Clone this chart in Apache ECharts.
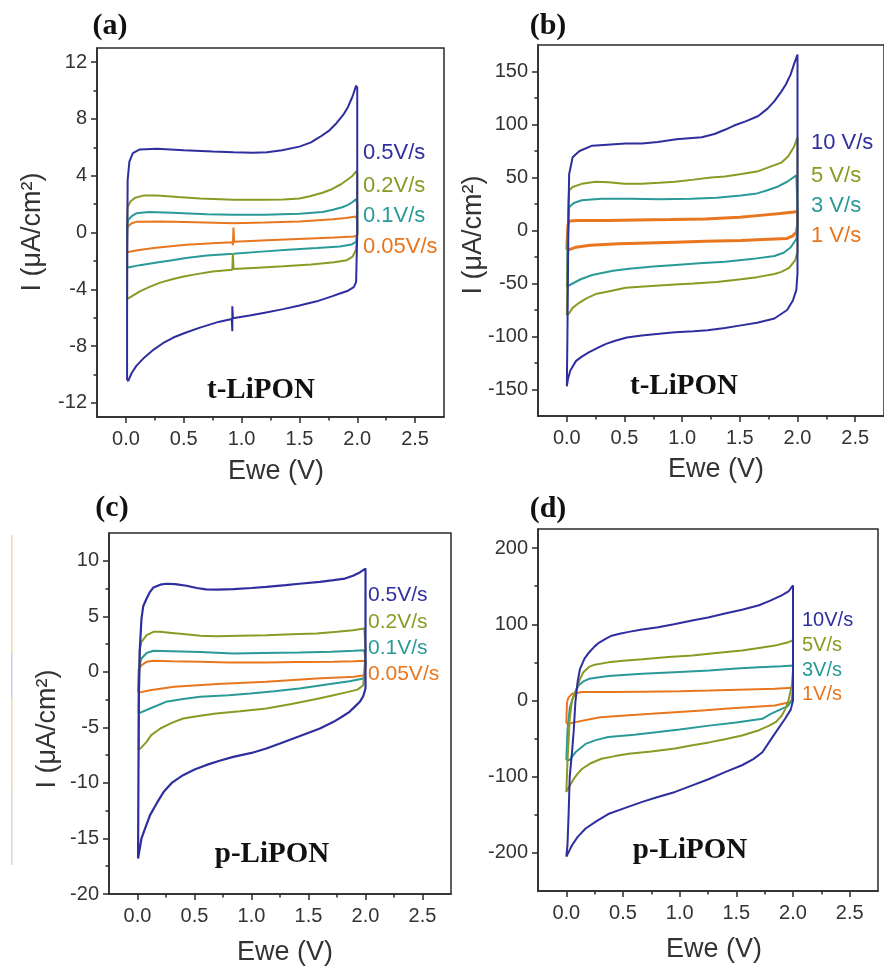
<!DOCTYPE html>
<html>
<head>
<meta charset="utf-8">
<script src="https://cdn.jsdelivr.net/npm/echarts@6/dist/echarts.min.js"></script>
<style>html,body{margin:0;padding:0;background:#fff;}#c{width:884px;height:970px;}</style>
</head>
<body>
<div id="c"></div>
<script>
// ---------- DATA (potential V, current µA/cm²) ----------
// panel (a) t-LiPON
const a_05 = [[0.01,-10.4],[0.01,-6],[0.012,0],[0.015,3.7],[0.03,5.0],[0.06,5.6],[0.12,5.85],[0.27,5.9],[0.5,5.8],[0.75,5.7],[0.93,5.65],[1.1,5.62],[1.22,5.65],[1.35,5.8],[1.5,6.05],[1.6,6.35],[1.68,6.75],[1.76,7.2],[1.82,7.7],[1.88,8.3],[1.92,8.85],[1.96,9.6],[1.99,10.35],
  [2.0,10.2],[2.0,4],[2.0,0],[1.99,-3.5],[1.97,-3.85],[1.92,-4.1],[1.85,-4.3],[1.78,-4.5],[1.65,-4.85],[1.5,-5.15],[1.36,-5.4],[1.2,-5.65],[1.07,-5.85],[0.95,-6.0],[0.925,-6.05],[0.92,-5.2],[0.92,-6.95],[0.915,-6.1],[0.8,-6.3],[0.64,-6.7],[0.52,-7.05],[0.41,-7.4],[0.32,-7.8],[0.24,-8.25],[0.16,-8.8],[0.09,-9.4],[0.05,-9.9],[0.02,-10.45],[0.01,-10.4]];
const a_02 = [[0.01,-4.7],[0.01,-1],[0.012,1.0],[0.015,1.8],[0.04,2.2],[0.08,2.45],[0.15,2.6],[0.27,2.6],[0.45,2.5],[0.64,2.4],[0.93,2.3],[1.2,2.3],[1.36,2.32],[1.5,2.4],[1.59,2.55],[1.7,2.8],[1.78,3.05],[1.86,3.4],[1.92,3.75],[1.96,4.0],[1.99,4.3],
  [2.0,4.1],[2.0,0],[1.99,-1.2],[1.96,-1.7],[1.91,-1.95],[1.8,-2.1],[1.6,-2.25],[1.36,-2.38],[1.1,-2.5],[0.93,-2.58],[0.925,-1.45],[0.92,-2.62],[0.75,-2.75],[0.6,-2.95],[0.5,-3.1],[0.4,-3.3],[0.29,-3.55],[0.2,-3.85],[0.12,-4.15],[0.06,-4.45],[0.01,-4.7]];
const a_01 = [[0.01,-2.45],[0.01,-1],[0.012,0.5],[0.02,0.9],[0.05,1.15],[0.09,1.35],[0.2,1.45],[0.4,1.4],[0.7,1.28],[0.93,1.25],[1.2,1.25],[1.5,1.32],[1.7,1.45],[1.79,1.6],[1.87,1.78],[1.92,1.95],[1.96,2.15],[1.99,2.35],
  [2.0,2.0],[2.0,0],[1.99,-0.65],[1.95,-0.85],[1.85,-0.98],[1.65,-1.1],[1.4,-1.22],[1.2,-1.33],[0.93,-1.5],[0.7,-1.62],[0.52,-1.8],[0.4,-1.95],[0.24,-2.15],[0.12,-2.3],[0.03,-2.45],[0.01,-2.45]];
const a_005 = [[0.01,-1.35],[0.01,-0.5],[0.012,0.3],[0.02,0.45],[0.05,0.65],[0.09,0.75],[0.3,0.78],[0.6,0.72],[0.93,0.65],[1.2,0.7],[1.5,0.78],[1.79,0.93],[1.9,1.02],[1.99,1.12],
  [2.0,0.8],[2.0,-0.2],[1.97,-0.28],[1.8,-0.35],[1.65,-0.4],[1.22,-0.55],[0.935,-0.65],[0.93,0.35],[0.925,-0.9],[0.92,-0.68],[0.75,-0.75],[0.52,-0.86],[0.24,-1.1],[0.1,-1.25],[0.02,-1.38],[0.01,-1.35]];

// panel (b) t-LiPON
const b_10 = [[0.0,-147],[0.005,-100],[0.01,-40],[0.015,20],[0.02,53],[0.05,69],[0.11,75],[0.22,80],[0.35,81],[0.51,82],[0.65,82],[0.79,83.5],[0.95,86],[1.17,88],[1.28,91],[1.37,95],[1.45,99],[1.55,103],[1.66,108],[1.74,115],[1.8,122],[1.86,131],[1.9,138],[1.94,147],[1.97,157],[2.0,166],
  [2.0,100],[2.0,0],[2.0,-40],[1.99,-56],[1.96,-66],[1.91,-75],[1.8,-83],[1.65,-87],[1.51,-89.5],[1.37,-92],[1.22,-94],[1.1,-95],[0.94,-96],[0.8,-97.5],[0.65,-99],[0.52,-101],[0.42,-104],[0.34,-107],[0.28,-110],[0.19,-115],[0.13,-119],[0.08,-123],[0.03,-132],[0.01,-140],[0.0,-147]];
const b_5 = [[0.0,-80],[0.005,-40],[0.01,0],[0.015,30],[0.02,38],[0.05,41],[0.13,44],[0.25,46],[0.36,45.5],[0.5,44],[0.65,44],[0.8,45],[0.94,46],[1.1,48],[1.25,50],[1.37,51],[1.5,53],[1.66,56],[1.76,60],[1.86,64],[1.92,70],[1.97,79],[2.0,88],
  [2.0,40],[2.0,0],[2.0,-20],[1.98,-28],[1.93,-35],[1.86,-39],[1.8,-41],[1.65,-44],[1.51,-46],[1.3,-48.5],[1.1,-50],[0.94,-51],[0.7,-52.5],[0.51,-54],[0.38,-57],[0.25,-60],[0.17,-64],[0.11,-68],[0.05,-73],[0.02,-78],[0.0,-80]];
const b_3 = [[0.0,-53],[0.005,-20],[0.01,5],[0.015,15],[0.02,22],[0.06,26],[0.13,28.5],[0.3,30],[0.55,30],[0.8,29.5],[1.08,30],[1.3,31],[1.51,33],[1.65,35],[1.74,38],[1.82,41],[1.91,46],[1.99,52],
  [2.0,20],[2.0,0],[1.99,-8],[1.94,-16],[1.88,-21],[1.8,-24],[1.6,-27],[1.37,-29.5],[1.15,-31],[0.94,-32.5],[0.75,-34],[0.54,-36],[0.4,-38],[0.22,-42],[0.12,-46],[0.05,-50],[0.0,-53]];
const b_1 = [[0.0,-18],[0.005,-5],[0.01,5],[0.02,9],[0.1,9.5],[0.35,9.5],[0.6,10],[0.9,10.3],[1.2,10.8],[1.5,12.5],[1.7,14.5],[1.85,16],[1.97,17.5],[2.0,18],
  [2.0,5],[1.99,-1.5],[1.96,-5],[1.91,-7.5],[1.7,-8.5],[1.51,-9.4],[1.2,-10.2],[0.94,-11],[0.7,-11.8],[0.45,-12.6],[0.2,-14],[0.08,-15.7],[0.02,-18],[0.0,-18]];

// panel (c) p-LiPON
const c_05 = [[0.005,-16.8],[0.008,-10],[0.012,-2],[0.02,2],[0.035,4.8],[0.05,5.9],[0.08,6.6],[0.11,7.2],[0.14,7.6],[0.2,7.85],[0.25,7.93],[0.33,7.9],[0.43,7.75],[0.52,7.55],[0.6,7.43],[0.7,7.4],[0.84,7.45],[1.0,7.55],[1.13,7.65],[1.3,7.8],[1.42,7.93],[1.6,8.1],[1.72,8.25],[1.82,8.4],[1.89,8.65],[1.95,8.95],[2.0,9.3],
  [2.0,5],[2.0,0],[2.0,-1.5],[1.98,-2.2],[1.95,-2.7],[1.9,-3.2],[1.86,-3.6],[1.8,-4.0],[1.72,-4.5],[1.6,-5.1],[1.42,-5.8],[1.25,-6.45],[1.13,-6.9],[1.0,-7.3],[0.84,-7.65],[0.72,-8.0],[0.6,-8.4],[0.5,-8.8],[0.4,-9.3],[0.3,-10.0],[0.23,-10.8],[0.17,-11.8],[0.11,-12.9],[0.07,-14.0],[0.035,-15.0],[0.015,-16.2],[0.005,-16.8]];
const c_02 = [[0.01,-7],[0.012,-3],[0.015,0],[0.02,2],[0.035,2.7],[0.08,3.3],[0.14,3.6],[0.2,3.6],[0.3,3.5],[0.4,3.4],[0.55,3.25],[0.69,3.2],[0.9,3.25],[1.13,3.3],[1.35,3.38],[1.57,3.45],[1.75,3.6],[1.89,3.75],[1.99,3.9],
  [2.0,2],[1.99,0],[1.98,-1.2],[1.93,-1.6],[1.83,-1.85],[1.7,-2.15],[1.57,-2.45],[1.35,-2.9],[1.13,-3.3],[0.9,-3.55],[0.69,-3.75],[0.55,-3.95],[0.4,-4.2],[0.3,-4.6],[0.2,-5.1],[0.12,-5.7],[0.08,-6.3],[0.03,-6.85],[0.01,-7]];
const c_01 = [[0.01,-3.7],[0.012,-1.5],[0.015,0.5],[0.035,1.2],[0.08,1.7],[0.14,1.9],[0.3,1.85],[0.55,1.78],[0.84,1.65],[1.1,1.7],[1.42,1.74],[1.7,1.82],[1.9,1.9],[1.99,1.95],
  [2.0,1.0],[1.99,-0.3],[1.98,-0.6],[1.86,-0.85],[1.72,-1.05],[1.42,-1.5],[1.2,-1.75],[0.99,-1.95],[0.8,-2.1],[0.55,-2.25],[0.4,-2.45],[0.25,-2.7],[0.11,-3.3],[0.02,-3.7],[0.01,-3.7]];
const c_005 = [[0.005,-1.85],[0.007,-0.5],[0.01,0.2],[0.035,0.6],[0.08,0.9],[0.14,1.0],[0.3,0.95],[0.55,0.9],[0.8,0.85],[1.13,0.85],[1.4,0.88],[1.72,0.9],[1.9,0.95],[2.0,1.0],
  [2.0,0.3],[1.99,-0.3],[1.9,-0.45],[1.57,-0.6],[1.13,-0.9],[0.7,-1.1],[0.32,-1.35],[0.11,-1.65],[0.02,-1.85],[0.005,-1.85]];

// panel (d) p-LiPON
const d_10 = [[0.0,-205],[0.01,-190],[0.02,-150],[0.03,-100],[0.05,-68],[0.065,-40],[0.08,-2],[0.1,25],[0.12,41],[0.16,55],[0.2,63],[0.25,71],[0.29,76],[0.35,81],[0.4,85],[0.48,88],[0.55,90],[0.67,93],[0.81,96],[0.95,100],[1.11,105],[1.25,109],[1.4,114],[1.55,119],[1.7,125],[1.8,131],[1.9,138],[1.96,143],[2.0,151],
  [2.0,60],[2.0,0],[1.98,-12],[1.93,-24],[1.87,-37],[1.81,-50],[1.73,-68],[1.65,-77],[1.55,-85],[1.4,-94],[1.26,-103],[1.1,-112],[0.96,-120],[0.8,-127],[0.67,-133],[0.52,-141],[0.37,-149],[0.27,-158],[0.17,-168],[0.1,-179],[0.05,-190],[0.02,-199],[0.0,-205]];
const d_5 = [[0.0,-120],[0.01,-80],[0.03,-24],[0.05,0],[0.08,11],[0.12,28],[0.15,37],[0.2,44],[0.25,47],[0.37,50],[0.5,52],[0.67,54],[0.9,57],[1.11,59],[1.3,62],[1.55,65.5],[1.7,69],[1.84,72],[1.95,76],[2.0,79],
  [2.0,40],[1.99,20],[1.96,0],[1.93,-12],[1.9,-20],[1.85,-28],[1.79,-33],[1.7,-39],[1.55,-46],[1.4,-51],[1.26,-55],[1.1,-59],[0.96,-63],[0.75,-67],[0.55,-70],[0.43,-73],[0.31,-76.5],[0.22,-82],[0.14,-89.6],[0.1,-96],[0.065,-103],[0.03,-112],[0.0,-120]];
const d_3 = [[0.0,-78],[0.01,-40],[0.03,-10],[0.05,0],[0.08,12],[0.11,20],[0.15,25],[0.2,28.4],[0.37,32],[0.67,35],[1.0,37.5],[1.26,39.3],[1.5,42],[1.7,43.7],[1.9,45],[2.0,46],
  [2.0,20],[1.99,0],[1.95,-8],[1.9,-11],[1.8,-18],[1.73,-24],[1.5,-29],[1.26,-33],[1.0,-38],[0.81,-41.5],[0.6,-45],[0.37,-48],[0.26,-52],[0.17,-57],[0.08,-68],[0.03,-78],[0.0,-78]];
const d_1 = [[0.0,-30],[0.005,-5],[0.01,0],[0.02,4],[0.05,8.7],[0.14,11],[0.4,11],[0.67,11.5],[1.0,12],[1.26,13],[1.6,14.5],[1.84,15.3],[2.0,16.6],
  [2.0,5],[1.98,-2],[1.84,-6.6],[1.6,-9],[1.4,-11],[1.2,-13],[0.96,-15.3],[0.75,-17.5],[0.52,-19.7],[0.3,-22],[0.23,-24],[0.08,-28.4],[0.02,-30.6],[0.0,-30]];

// legend labels
const labelsAC = ['0.5V/s','0.2V/s','0.1V/s','0.05V/s'];
const labelsB = ['10 V/s','5 V/s','3 V/s','1 V/s'];
const labelsD = ['10V/s','5V/s','3V/s','1V/s'];

// tick values
const xMajor = [0,0.5,1.0,1.5,2.0,2.5];
const xMinor = [0.25,0.75,1.25,1.75,2.25];
const yA = {min:-13,max:13,major:[-12,-8,-4,0,4,8,12],minor:[-10,-6,-2,2,6,10]};
const yB = {min:-175,max:175,major:[-150,-100,-50,0,50,100,150],minor:[-125,-75,-25,25,75,125]};
const yC = {min:-20,max:12.5,major:[-20,-15,-10,-5,0,5,10],minor:[-17.5,-12.5,-7.5,-2.5,2.5,7.5]};
const yD = {min:-250,max:225,major:[-200,-100,0,100,200],minor:[-150,-50,50,150]};

// ---------- STYLE ----------
const COLORS = ['#2e2e9e','#8a9a24','#2a9a98','#e8761e'];
const AX = '#2a2a2a';
const FONT = 'Liberation Sans, Arial, sans-serif';
const SERIF = 'Liberation Serif, Times New Roman, serif';

const grids = [
  {left:97, top:48, width:347, height:369},
  {left:538, top:45, width:348, height:371},
  {left:109, top:533, width:342, height:361},
  {left:538, top:529, width:340, height:362}
];
const yDefs = [yA,yB,yC,yD];
const panelData = [[a_05,a_02,a_01,a_005],[b_10,b_5,b_3,b_1],[c_05,c_02,c_01,c_005],[d_10,d_5,d_3,d_1]];
const lw = [[2,2,2,2],[2,2,2,3],[2.2,2,2,2],[2,2,2,2]];

const xAxes = [], yAxes = [], series = [];
grids.forEach((g,i)=>{
  g.show = true; g.borderColor = AX; g.borderWidth = 1.5; g.backgroundColor='transparent';
  xAxes.push({gridIndex:i,type:'value',min:-0.25,max:2.75,position:'bottom',offset:0,
    axisLine:{show:true,onZero:false,lineStyle:{color:AX,width:1.5}},
    axisTick:{show:true,customValues:xMajor,length:6,lineStyle:{color:AX,width:1.5}},
    axisLabel:{show:true,customValues:xMajor,formatter:v=>v.toFixed(1),fontSize:20,fontFamily:FONT,color:'#333',margin:12},
    splitLine:{show:false}});
  xAxes.push({gridIndex:i,type:'value',min:-0.25,max:2.75,position:'bottom',offset:0,
    axisLine:{show:false,onZero:false},
    axisTick:{show:true,customValues:xMinor,length:3.5,lineStyle:{color:AX,width:1.5}},
    axisLabel:{show:false},splitLine:{show:false}});
  const yd = yDefs[i];
  yAxes.push({gridIndex:i,type:'value',min:yd.min,max:yd.max,position:'left',offset:0,
    axisLine:{show:true,onZero:false,lineStyle:{color:AX,width:1.5}},
    axisTick:{show:true,customValues:yd.major,length:6,lineStyle:{color:AX,width:1.5}},
    axisLabel:{show:true,customValues:yd.major,fontSize:20,fontFamily:FONT,color:'#333',margin:10},
    splitLine:{show:false}});
  yAxes.push({gridIndex:i,type:'value',min:yd.min,max:yd.max,position:'left',offset:0,
    axisLine:{show:false,onZero:false},
    axisTick:{show:true,customValues:yd.minor,length:3.5,lineStyle:{color:AX,width:1.5}},
    axisLabel:{show:false},splitLine:{show:false}});
  panelData[i].forEach((d,k)=>{
    series.push({type:'line',xAxisIndex:2*i,yAxisIndex:2*i,data:d,showSymbol:false,symbol:'none',
      lineStyle:{color:COLORS[k],width:lw[i][k]},color:COLORS[k],animation:false,z:10-k});
  });
});

function txt(x,y,s,opt){
  return {type:'text',x:x,y:y,style:Object.assign({text:s,align:'center',verticalAlign:'middle',fill:'#222',font:'27px '+FONT},opt||{}),z:100};
}
const graphic = [];
// panel letters
graphic.push(txt(110,26,'(a)',{font:'bold 30px '+SERIF,fill:'#111'}));
graphic.push(txt(548,26,'(b)',{font:'bold 30px '+SERIF,fill:'#111'}));
graphic.push(txt(112,508,'(c)',{font:'bold 30px '+SERIF,fill:'#111'}));
graphic.push(txt(548,509,'(d)',{font:'bold 30px '+SERIF,fill:'#111'}));
// sample names
graphic.push(txt(261,391,'t-LiPON',{font:'bold 29px '+SERIF,fill:'#111'}));
graphic.push(txt(684,387,'t-LiPON',{font:'bold 29px '+SERIF,fill:'#111'}));
graphic.push(txt(272,855,'p-LiPON',{font:'bold 29px '+SERIF,fill:'#111'}));
graphic.push(txt(690,851,'p-LiPON',{font:'bold 29px '+SERIF,fill:'#111'}));
// x titles
graphic.push(txt(276,472,'Ewe (V)',{fill:'#333'}));
graphic.push(txt(716,470,'Ewe (V)',{fill:'#333'}));
graphic.push(txt(285,953,'Ewe (V)',{fill:'#333'}));
graphic.push(txt(714,950,'Ewe (V)',{fill:'#333'}));
// y titles (rotated)
[[33,232],[474,235],[48,729]].forEach(p=>{
  graphic.push({type:'text',x:p[0],y:p[1],rotation:Math.PI/2,
    style:{text:'I (\u03bcA/cm\u00b2)',align:'center',verticalAlign:'middle',fill:'#333',font:'27px '+FONT},z:100});
});
// legends
const legPos = [
  {x:363,ys:[153,186,216,247],labels:labelsAC,size:22},
  {x:811,ys:[143,176,206,236],labels:labelsB,size:22},
  {x:368,ys:[595,622,648,674],labels:labelsAC,size:21},
  {x:802,ys:[620,645,670,694],labels:labelsD,size:20}
];
legPos.forEach(L=>{
  L.labels.forEach((s,k)=>{
    graphic.push({type:'text',x:L.x,y:L.ys[k],style:{text:s,align:'left',verticalAlign:'middle',fill:COLORS[k],font:L.size+'px '+FONT},z:100});
  });
});
// faint colored strip at left of panel (c)
[[535,653,'#ecdcae'],[653,698,'#c6d3e8'],[698,785,'#ecdcae'],[785,865,'#cfe2c8']].forEach(r=>{
  graphic.push({type:'rect',shape:{x:11,y:r[0],width:1.6,height:r[1]-r[0]},style:{fill:r[2]},z:50});
});

const chart = echarts.init(document.getElementById('c'),null,{renderer:'canvas'});
chart.setOption({
  animation:false,
  backgroundColor:'#ffffff',
  grid:grids,
  xAxis:xAxes,
  yAxis:yAxes,
  series:series,
  graphic:graphic
});
</script>
</body>
</html>
